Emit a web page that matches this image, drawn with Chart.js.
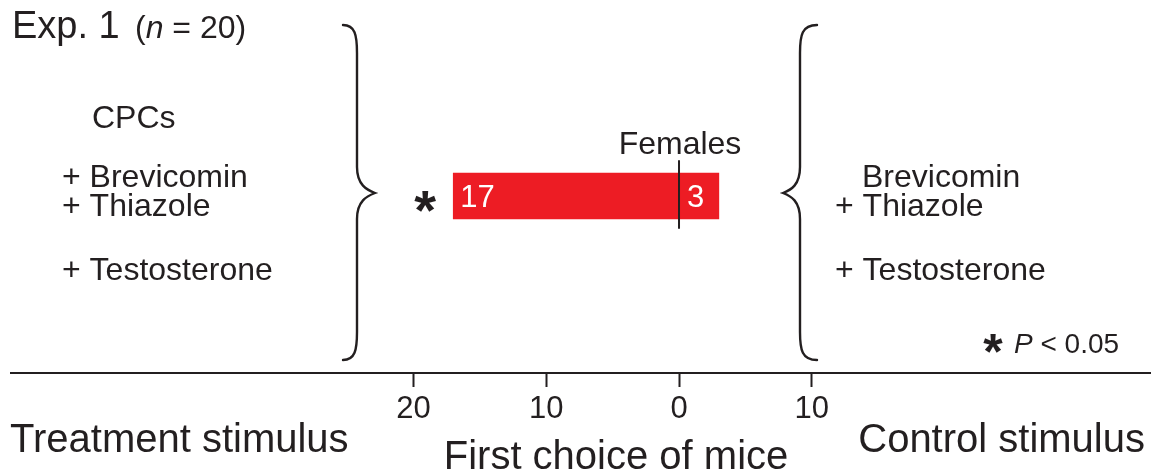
<!DOCTYPE html>
<html>
<head>
<meta charset="utf-8">
<script src="https://cdn.jsdelivr.net/npm/chart.js@4"></script>
<style>
  html, body { margin: 0; padding: 0; background: #fff; }
  #wrap { width: 1151px; height: 472px; }
</style>
</head>
<body>
<div id="wrap"><canvas id="chartExp1" width="1151" height="472"></canvas></div>
<script>
// ---- data ----
const groups = ["Females"];
const treatmentChoices = [17];   // mice choosing treatment stimulus first
const controlChoices = [3];      // mice choosing control stimulus first
const significant = [true];
const tickValues = [-20, -10, 0, 10];
const treatmentLines = ["CPCs", "+ Brevicomin", "+ Thiazole", "+ Testosterone"];
const controlLines = ["", "Brevicomin", "+ Thiazole", "+ Testosterone"];

const INK = "#231F20";
const RED = "#ED1C24";
const FONT = "'Liberation Sans', Arial, Helvetica, sans-serif";

// curly brace, tip points to the side of xTip
function brace(ctx, xEdge, xMid, xTip, yTop, yTip, yBot) {
  const d = xTip > xMid ? 1 : -1;
  ctx.beginPath();
  ctx.moveTo(xEdge, yTop);
  ctx.bezierCurveTo(xMid - 2 * d, yTop, xMid, yTop + 10, xMid, yTop + 28);
  ctx.lineTo(xMid, yTip - 26);
  ctx.bezierCurveTo(xMid, yTip - 8, xTip - 8 * d, yTip - 3, xTip, yTip);
  ctx.bezierCurveTo(xTip - 8 * d, yTip + 3, xMid, yTip + 8, xMid, yTip + 26);
  ctx.lineTo(xMid, yBot - 28);
  ctx.bezierCurveTo(xMid, yBot - 10, xMid - 2 * d, yBot, xEdge, yBot);
  ctx.stroke();
}

function text(ctx, s, x, y, size, opts = {}) {
  ctx.font = (opts.style || "") + " " + size + "px " + FONT;
  ctx.fillStyle = opts.color || INK;
  ctx.textAlign = opts.align || "left";
  ctx.textBaseline = "alphabetic";
  ctx.fillText(s, x, y);
  return ctx.measureText(s).width;
}

const decor = {
  id: "decor",
  afterDraw(chart) {
    const ctx = chart.ctx;
    const xs = chart.scales.x;
    ctx.save();

    // title
    text(ctx, "Exp. 1", 12, 38, 38);
    let px = 135;
    px += text(ctx, "(", px, 38, 32);
    px += text(ctx, "n", px, 38, 32, { style: "italic" });
    text(ctx, " = 20)", px, 38, 32);

    // stimulus descriptions
    const rows = [128, 187, 216, 280];
    text(ctx, treatmentLines[0], 92, rows[0], 32);
    for (let i = 1; i < treatmentLines.length; i++) {
      text(ctx, treatmentLines[i], 62, rows[i], 32);
    }
    text(ctx, controlLines[1], 862, rows[1], 32);
    for (let i = 2; i < controlLines.length; i++) {
      text(ctx, controlLines[i], 835, rows[i], 32);
    }

    // braces
    ctx.strokeStyle = INK;
    ctx.lineWidth = 2.4;
    ctx.lineCap = "round";
    brace(ctx, 343, 357, 375, 25, 193, 360);
    brace(ctx, 817, 800, 783, 25, 193, 360);

    // bars: counts, zero line, label, significance
    const m0 = chart.getDatasetMeta(0).data;
    groups.forEach((g, i) => {
      const left = m0[i];
      const yc = left.y;
      const x0 = xs.getPixelForValue(0);
      text(ctx, String(treatmentChoices[i]), left.x + 7, yc + 11, 31, { color: "#fff" });
      text(ctx, String(controlChoices[i]), x0 + 8, yc + 11, 31, { color: "#fff" });

      ctx.strokeStyle = INK;
      ctx.lineWidth = 2;
      ctx.beginPath();
      ctx.moveTo(x0, yc - 35);
      ctx.lineTo(x0, yc + 32);
      ctx.stroke();
      text(ctx, g, x0 + 1, yc - 42, 32, { align: "center" });

      if (significant[i]) {
        text(ctx, "*", left.x - 28, yc + 33, 56, { style: "bold", align: "center" });
      }
    });

    // p-value note
    text(ctx, "*", 993, 369, 50, { style: "bold", align: "center" });
    px = 1014;
    px += text(ctx, "P", px, 353, 28, { style: "italic" });
    text(ctx, " < 0.05", px, 353, 28);

    // axis captions
    text(ctx, "Treatment stimulus", 10, 452, 40);
    text(ctx, "Control stimulus", 1145, 452, 40, { align: "right" });
    text(ctx, "First choice of mice", 616, 469, 40, { align: "center" });

    ctx.restore();
  }
};

new Chart(document.getElementById("chartExp1"), {
  type: "bar",
  data: {
    labels: groups,
    datasets: [
      {
        label: "Treatment",
        data: treatmentChoices.map(v => -v),
        backgroundColor: RED,
        borderWidth: 0,
        barThickness: 46
      },
      {
        label: "Control",
        data: controlChoices,
        backgroundColor: RED,
        borderWidth: 0,
        barThickness: 46
      }
    ]
  },
  options: {
    indexAxis: "y",
    responsive: false,
    animation: false,
    events: [],
    layout: { padding: { left: 11, right: 0, top: 19, bottom: 0 } },
    plugins: {
      legend: { display: false },
      tooltip: { enabled: false }
    },
    scales: {
      x: {
        type: "linear",
        stacked: true,
        min: -50.3,
        max: 35.54,
        afterBuildTicks: s => { s.ticks = tickValues.map(v => ({ value: v })); },
        afterFit: s => { s.height = 99; },
        border: { display: true, color: INK, width: 2 },
        grid: {
          drawOnChartArea: false,
          drawTicks: true,
          tickLength: 14,
          tickColor: INK,
          tickWidth: 2
        },
        ticks: {
          autoSkip: false,
          maxRotation: 0,
          padding: 4,
          color: INK,
          font: { family: FONT, size: 31 },
          callback: v => String(Math.abs(v))
        }
      },
      y: {
        stacked: true,
        display: false
      }
    }
  },
  plugins: [decor]
});
</script>
</body>
</html>
